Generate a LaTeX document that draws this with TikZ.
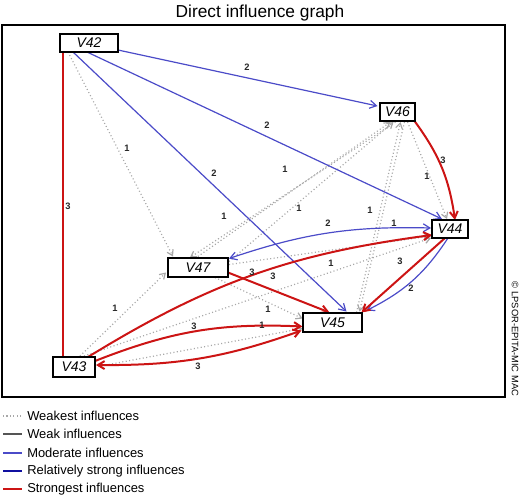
\documentclass[tikz,border=0pt]{standalone}
\usepackage{fontspec}
\setmainfont{Liberation Sans}
\usetikzlibrary{arrows.meta,backgrounds}
\definecolor{strongred}{HTML}{CC1414}
\definecolor{modblue}{HTML}{4B4BC8}
\definecolor{relblue}{HTML}{1010A0}
\definecolor{weakgray}{HTML}{555555}
\definecolor{dotgray}{HTML}{A8A8A8}
\begin{document}
\begin{tikzpicture}[x=0.75pt,y=-0.75pt,
  vbox/.style={draw=black, line width=1.5pt, fill=white, inner sep=0pt,
    font=\fontsize{10.5}{12}\selectfont\itshape},
  strongest/.style={draw=strongred, line width=1.5pt, -{Straight Barb[length=5pt,width=6pt]}},
  moderate/.style={draw=modblue, line width=0.9pt, -{Straight Barb[length=5pt,width=6pt]}},
  weakest/.style={draw=dotgray, line width=0.9pt, dash pattern=on 0.8pt off 1.8pt,
    -{Straight Barb[length=4pt,width=5pt]}},
  wlab/.style={font=\fontsize{7}{8}\selectfont\bfseries, inner sep=0pt, text=black!85},
  legtext/.style={anchor=west, inner sep=0pt, font=\fontsize{9.7}{11}\selectfont},
]
\useasboundingbox (0,0) rectangle (520,497);

% title and frame
\node[font=\fontsize{13}{15}\selectfont] (title) at (260,13) {Direct influence graph};
\draw[line width=1.2pt] (2,25) rectangle (505,397);
\node[rotate=-90, font=\fontsize{7}{8}\selectfont, inner sep=0pt] (copy) at (515,339) {© LPSOR-EPITA-MIC MAC};

% nodes
\node[vbox, minimum width=43.5pt, minimum height=13.5pt] (V42) at (89,43) {V42};
\node[vbox, minimum width=26.25pt, minimum height=13.5pt] (V46) at (397.5,112) {V46};
\node[vbox, minimum width=27pt, minimum height=13.5pt] (V44) at (450,229) {V44};
\node[vbox, minimum width=45pt, minimum height=14.25pt] (V47) at (198,267.5) {V47};
\node[vbox, minimum width=44.25pt, minimum height=14.25pt] (V45) at (332.5,322.5) {V45};
\node[vbox, minimum width=31.5pt, minimum height=15pt] (V43) at (74,367) {V43};

\begin{scope}[on background layer]
% weakest influences
\draw[weakest] ([shift={(-21,9)}]V42.center) -- ([shift={(-25,-11)}]V47.center);
\draw[weakest] ([shift={(6,-11)}]V43.center) -- ([shift={(-32,5)}]V47.center);
\draw[weakest] ([shift={(-3,-9)}]V47.center) -- ([shift={(-7,10)}]V46.center);
\draw[weakest] ([shift={(-2,10)}]V46.center) -- ([shift={(-8,-10)}]V47.center);
\draw[weakest] ([shift={(31,-6)}]V47.center) -- ([shift={(-4,10)}]V46.center);
\draw[weakest] ([shift={(24,-10)}]V45.center) -- ([shift={(3,10)}]V46.center);
\draw[weakest] ([shift={(7,10)}]V46.center) -- ([shift={(27,-11)}]V45.center);
\draw[weakest] ([shift={(10,10)}]V46.center) -- ([shift={(-3,-10)}]V44.center);
\draw[weakest] ([shift={(31,-3)}]V47.center) -- ([shift={(-19,7)}]V44.center);
\draw[weakest] ([shift={(17,10)}]V47.center) -- ([shift={(-30,-4)}]V45.center);
\draw[weakest] ([shift={(10,-11)}]V43.center) -- ([shift={(-19,9)}]V44.center);
\draw[weakest] ([shift={(21,0)}]V43.center) -- ([shift={(-30,6)}]V45.center);

% moderate influences
\draw[moderate] ([shift={(29,7)}]V42.center) -- ([shift={(-20,-6)}]V46.center);
\draw[moderate] ([shift={(-2,9)}]V42.center) -- ([shift={(-8,-10)}]V44.center);
\draw[moderate] ([shift={(-16,9)}]V42.center) -- ([shift={(14,-11)}]V45.center);
\draw[moderate, {Straight Barb[length=5pt,width=6pt]}-{Straight Barb[length=5pt,width=6pt]}]
  ([shift={(-19,-1)}]V44.center) to[bend right=10] ([shift={(31,-9)}]V47.center);
\draw[moderate] ([shift={(-2,9)}]V44.center) to[bend left=15] ([shift={(34,-12)}]V45.center);

% strongest influences
\draw[strongest, -] ([shift={(-26,9)}]V42.center) -- ([shift={(-11,-10)}]V43.center);
\draw[strongest] ([shift={(17,9)}]V46.center) to[bend left=14] ([shift={(5,-9)}]V44.center);
\draw[strongest] ([shift={(30,5)}]V47.center) -- ([shift={(-3,-10)}]V45.center);
\draw[strongest] ([shift={(14,-10)}]V43.center) to[bend left=12] ([shift={(-18,6)}]V44.center);
\draw[strongest] ([shift={(21,-6)}]V43.center) to[bend left=12] ([shift={(-30,4)}]V45.center);
\draw[strongest, {Straight Barb[length=5pt,width=6pt]}-{Straight Barb[length=5pt,width=6pt]}]
  ([shift={(-31,8)}]V45.center) to[bend left=10] ([shift={(22,-2)}]V43.center);
\draw[strongest] ([shift={(-5,9)}]V44.center) -- ([shift={(29,-10)}]V45.center);
\end{scope}

% weight labels
\node[wlab] (l1) at (68,206) {3};
\node[wlab] (l2) at (443,160) {3};
\node[wlab] (l3) at (252,272) {3};
\node[wlab] (l4) at (273,276) {3};
\node[wlab] (l5) at (194,326) {3};
\node[wlab] (l6) at (198,366) {3};
\node[wlab] (l7) at (400,261) {3};
\node[wlab] (l8) at (247,67) {2};
\node[wlab] (l9) at (267,125) {2};
\node[wlab] (l10) at (214,173) {2};
\node[wlab] (l11) at (328,223) {2};
\node[wlab] (l12) at (411,288) {2};
\node[wlab] (l13) at (127,148) {1};
\node[wlab] (l14) at (115,308) {1};
\node[wlab] (l15) at (224,216) {1};
\node[wlab] (l16) at (285,169) {1};
\node[wlab] (l17) at (299,208) {1};
\node[wlab] (l18) at (370,210) {1};
\node[wlab] (l19) at (394,223) {1};
\node[wlab] (l20) at (427,176) {1};
\node[wlab] (l21) at (331,263) {1};
\node[wlab] (l22) at (268,309) {1};
\node[wlab] (l23) at (262,325) {1};

% legend
\coordinate (a1) at (3,416); \coordinate (b1) at (22,416);
\coordinate (a2) at (3,434); \coordinate (b2) at (22,434);
\coordinate (a3) at (3,453); \coordinate (b3) at (22,453);
\coordinate (a4) at (3,471); \coordinate (b4) at (22,471);
\coordinate (a5) at (3,489); \coordinate (b5) at (22,489);
\draw[dotgray, line width=0.9pt, dash pattern=on 0.8pt off 1.8pt] (a1) -- (b1);
\draw[weakgray, line width=1.5pt] (a2) -- (b2);
\draw[modblue, line width=1.1pt] (a3) -- (b3);
\draw[relblue, line width=1.5pt] (a4) -- (b4);
\draw[strongred, line width=1.5pt] (a5) -- (b5);
\node[legtext] (t1) at (27,416) {Weakest influences};
\node[legtext] (t2) at (27,434) {Weak influences};
\node[legtext] (t3) at (27,453) {Moderate influences};
\node[legtext] (t4) at (27,471) {Relatively strong influences};
\node[legtext] (t5) at (27,489) {Strongest influences};
\end{tikzpicture}
\end{document}
